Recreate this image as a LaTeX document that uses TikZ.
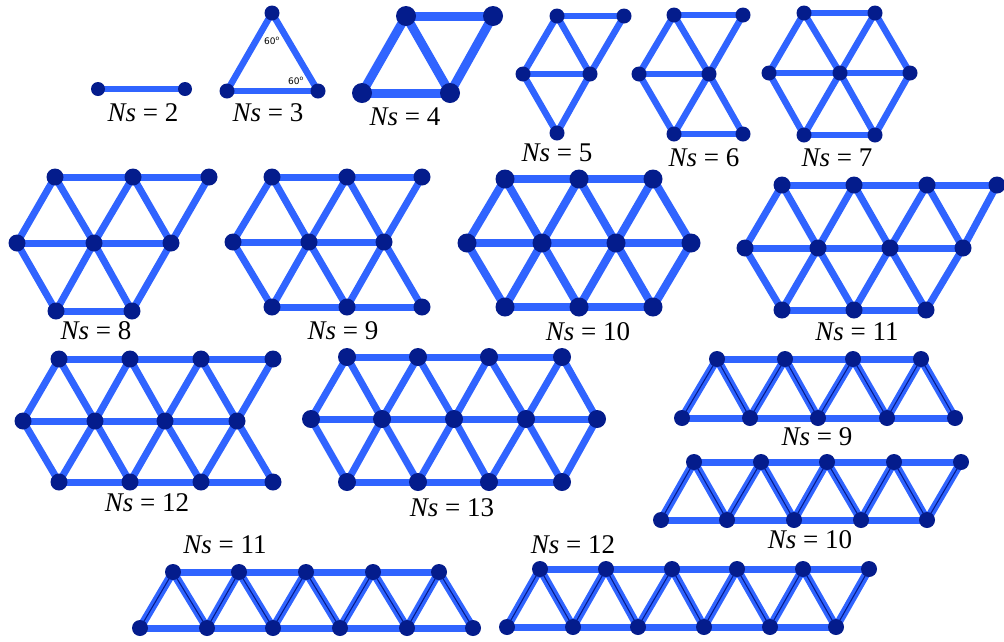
\documentclass[tikz,border=0pt]{standalone}
\usepackage{fontspec}
\setmainfont{Liberation Serif}
\newfontfamily\labelfont{Liberation Serif}
\newfontfamily\anglefont{DejaVu Sans}
\usetikzlibrary{backgrounds}
\definecolor{bondblue}{RGB}{48,100,255}
\definecolor{sitenavy}{RGB}{4,28,140}

\begin{document}
\begin{tikzpicture}[x=1pt, y=-1pt,
    site/.style={circle, fill=sitenavy, inner sep=0pt, minimum size=#1},
    site/.default=16pt,
    bond/.style={draw=bondblue, line width=#1},
    bond/.default=7pt,
    rung/.style={draw=bondblue, line width=8pt, postaction={draw=sitenavy, line width=1.1pt}},
    lbl/.style={font=\labelfont\fontsize{27}{30}\selectfont},
    ang/.style={font=\anglefont\fontsize{9}{10}\selectfont}
]
    \useasboundingbox (0,0) rectangle (1004,641);

    % Ns = 2
    \foreach \n/\x/\y in {a/98/89, b/185/89}
        \node[site=14pt] (n2\n) at (\x,\y) {};
    \begin{scope}[on background layer]
        \draw[bond=6pt] (n2a.center) -- (n2b.center);
    \end{scope}
    \node[lbl] (l2) at (143,113) {\textit{Ns} = 2};

    % Ns = 3
    \foreach \n/\x/\y in {t/272/13, l/227/91, r/318/91}
        \node[site=15pt] (n3\n) at (\x,\y) {};
    \begin{scope}[on background layer]
        \foreach \u/\v in {t/l, t/r, l/r}
            \draw[bond=6.5pt] (n3\u.center) -- (n3\v.center);
    \end{scope}
    \node[ang] (a3t) at (272,41) {60\textsuperscript{o}};
    \node[ang] (a3r) at (296,81) {60\textsuperscript{o}};
    \node[lbl] (l3) at (268,113) {\textit{Ns} = 3};

    % Ns = 4
    \foreach \n/\x/\y in {a/406/16, b/493/16, c/362/93, d/450/93}
        \node[site=20pt] (n4\n) at (\x,\y) {};
    \begin{scope}[on background layer]
        \foreach \u/\v in {a/b, a/c, a/d, b/d, c/d}
            \draw[bond=9pt] (n4\u.center) -- (n4\v.center);
    \end{scope}
    \node[lbl] (l4) at (405,117) {\textit{Ns} = 4};

    % Ns = 5
    \foreach \n/\x/\y in {a/557/16, b/624/16, c/523/74, d/590/74, e/557/133}
        \node[site=15pt] (n5\n) at (\x,\y) {};
    \begin{scope}[on background layer]
        \foreach \u/\v in {a/b, a/c, a/d, b/d, c/d, c/e, d/e}
            \draw[bond=6.5pt] (n5\u.center) -- (n5\v.center);
    \end{scope}
    \node[lbl] (l5) at (557,153) {\textit{Ns} = 5};

    % Ns = 6
    \foreach \n/\x/\y in {a/674/15, b/743/15, c/639/74, d/709/74, e/674/134, f/743/134}
        \node[site=15pt] (n6\n) at (\x,\y) {};
    \begin{scope}[on background layer]
        \foreach \u/\v in {a/b, a/c, a/d, b/d, c/d, c/e, d/e, d/f, e/f}
            \draw[bond=6.5pt] (n6\u.center) -- (n6\v.center);
    \end{scope}
    \node[lbl] (l6) at (704,158) {\textit{Ns} = 6};

    % Ns = 7
    \foreach \n/\x/\y in {a/804/13, b/875/13, c/769/73, d/840/73, e/910/73, f/804/135, g/875/135}
        \node[site=15pt] (n7\n) at (\x,\y) {};
    \begin{scope}[on background layer]
        \foreach \u/\v in {a/b, a/c, a/d, b/d, b/e, c/d, d/e, c/f, d/f, d/g, e/g, f/g}
            \draw[bond=6.5pt] (n7\u.center) -- (n7\v.center);
    \end{scope}
    \node[lbl] (l7) at (837,158) {\textit{Ns} = 7};

    % Ns = 8
    \foreach \n/\x/\y in {a/55/177, b/133/177, c/209/177, d/17/243, e/94/243, f/171/243, g/56/311, h/132/311}
        \node[site=17pt] (n8\n) at (\x,\y) {};
    \begin{scope}[on background layer]
        \foreach \u/\v in {a/b, b/c, d/e, e/f, g/h, a/d, a/e, b/e, b/f, c/f, d/g, e/g, e/h, f/h}
            \draw[bond] (n8\u.center) -- (n8\v.center);
    \end{scope}
    \node[lbl] (l8) at (96,331) {\textit{Ns} = 8};

    % Ns = 9
    \foreach \n/\x/\y in {a/272/177, b/347/177, c/422/177, d/233/242, e/309/242, f/384/242, g/272/307, h/347/307, i/422/307}
        \node[site=17pt] (n9\n) at (\x,\y) {};
    \begin{scope}[on background layer]
        \foreach \u/\v in {a/b, b/c, d/e, e/f, g/h, h/i, a/d, a/e, b/e, b/f, c/f, d/g, e/g, e/h, f/h, f/i}
            \draw[bond] (n9\u.center) -- (n9\v.center);
    \end{scope}
    \node[lbl] (l9) at (343,331) {\textit{Ns} = 9};

    % Ns = 10
    \foreach \n/\x/\y in {a/505/179, b/579/179, c/653/179, d/467/243, e/542/243, f/616/243, g/691/243, h/505/307, i/579/307, j/653/307}
        \node[site=19pt] (n10\n) at (\x,\y) {};
    \begin{scope}[on background layer]
        \foreach \u/\v in {a/b, b/c, d/e, e/f, f/g, h/i, i/j, a/d, a/e, b/e, b/f, c/f, c/g, d/h, e/h, e/i, f/i, f/j, g/j}
            \draw[bond=8pt] (n10\u.center) -- (n10\v.center);
    \end{scope}
    \node[lbl] (l10) at (588,332) {\textit{Ns} = 10};

    % Ns = 11
    \foreach \n/\x/\y in {a/782/185, b/854/185, c/927/185, d/997/185, e/745/248, f/818/248, g/890/248, h/963/248, i/782/310, j/854/310, k/926/310}
        \node[site=17pt] (n11\n) at (\x,\y) {};
    \begin{scope}[on background layer]
        \foreach \u/\v in {a/b, b/c, c/d, e/f, f/g, g/h, i/j, j/k, a/e, a/f, b/f, b/g, c/g, c/h, d/h, e/i, f/i, f/j, g/j, g/k, h/k}
            \draw[bond] (n11\u.center) -- (n11\v.center);
    \end{scope}
    \node[lbl] (l11) at (857,332) {\textit{Ns} = 11};

    % Ns = 12
    \foreach \n/\x/\y in {a/59/359, b/130/359, c/201/359, d/273/359, e/23/421, f/95/421, g/165/421, h/237/421, i/59/482, j/130/482, k/201/482, l/273/482}
        \node[site=17pt] (n12\n) at (\x,\y) {};
    \begin{scope}[on background layer]
        \foreach \u/\v in {a/b, b/c, c/d, e/f, f/g, g/h, i/j, j/k, k/l, a/e, a/f, b/f, b/g, c/g, c/h, d/h, e/i, f/i, f/j, g/j, g/k, h/k, h/l}
            \draw[bond] (n12\u.center) -- (n12\v.center);
    \end{scope}
    \node[lbl] (l12) at (147,503) {\textit{Ns} = 12};

    % Ns = 13
    \foreach \n/\x/\y in {a/347/357, b/418/357, c/489/357, d/562/357, e/311/419, f/382/419, g/454/419, h/526/419, i/597/419, j/347/482, k/418/482, l/489/482, m/562/482}
        \node[site=18pt] (n13\n) at (\x,\y) {};
    \begin{scope}[on background layer]
        \foreach \u/\v in {a/b, b/c, c/d, e/f, f/g, g/h, h/i, j/k, k/l, l/m, a/e, a/f, b/f, b/g, c/g, c/h, d/h, d/i, e/j, f/j, f/k, g/k, g/l, h/l, h/m, i/m}
            \draw[bond] (n13\u.center) -- (n13\v.center);
    \end{scope}
    \node[lbl] (l13) at (452,508) {\textit{Ns} = 13};

    % Chain Ns = 9
    \foreach \i/\x in {1/717, 2/785, 3/853, 4/921}
        \node[site] (c9t\i) at (\x,359) {};
    \foreach \i/\x in {1/682, 2/750, 3/818, 4/887, 5/955}
        \node[site] (c9b\i) at (\x,418) {};
    \begin{scope}[on background layer]
        \foreach \i [count=\j from 2] in {1,...,4} {
            \draw[rung] (c9b\i.center) -- (c9t\i.center);
            \draw[rung] (c9t\i.center) -- (c9b\j.center);
            \draw[bond] (c9b\i.center) -- (c9b\j.center);
        }
        \foreach \i [count=\j from 2] in {1,...,3}
            \draw[bond] (c9t\i.center) -- (c9t\j.center);
    \end{scope}
    \node[lbl] (c9l) at (817,437) {\textit{Ns} = 9};

    % Chain Ns = 10
    \foreach \i/\x in {1/694, 2/761, 3/827, 4/894, 5/961}
        \node[site] (c10t\i) at (\x,462) {};
    \foreach \i/\x in {1/661, 2/727, 3/794, 4/861, 5/927}
        \node[site] (c10b\i) at (\x,520) {};
    \begin{scope}[on background layer]
        \foreach \i in {1,...,5}
            \draw[rung] (c10b\i.center) -- (c10t\i.center);
        \foreach \i [count=\j from 2] in {1,...,4} {
            \draw[rung] (c10t\i.center) -- (c10b\j.center);
            \draw[bond] (c10t\i.center) -- (c10t\j.center);
            \draw[bond] (c10b\i.center) -- (c10b\j.center);
        }
    \end{scope}
    \node[lbl] (c10l) at (810,540) {\textit{Ns} = 10};

    % Chain Ns = 11
    \foreach \i/\x in {1/173, 2/239, 3/306, 4/373, 5/439}
        \node[site] (c11t\i) at (\x,572) {};
    \foreach \i/\x in {1/140, 2/207, 3/273, 4/340, 5/407, 6/473}
        \node[site] (c11b\i) at (\x,628) {};
    \begin{scope}[on background layer]
        \foreach \i [count=\j from 2] in {1,...,5} {
            \draw[rung] (c11b\i.center) -- (c11t\i.center);
            \draw[rung] (c11t\i.center) -- (c11b\j.center);
            \draw[bond] (c11b\i.center) -- (c11b\j.center);
        }
        \foreach \i [count=\j from 2] in {1,...,4}
            \draw[bond] (c11t\i.center) -- (c11t\j.center);
    \end{scope}
    \node[lbl] (c11l) at (225,545) {\textit{Ns} = 11};

    % Chain Ns = 12
    \foreach \i/\x in {1/540, 2/606, 3/672, 4/737, 5/803, 6/869}
        \node[site] (c12t\i) at (\x,569) {};
    \foreach \i/\x in {1/507, 2/573, 3/638, 4/704, 5/770, 6/836}
        \node[site] (c12b\i) at (\x,627) {};
    \begin{scope}[on background layer]
        \foreach \i in {1,...,6}
            \draw[rung] (c12b\i.center) -- (c12t\i.center);
        \foreach \i [count=\j from 2] in {1,...,5} {
            \draw[rung] (c12t\i.center) -- (c12b\j.center);
            \draw[bond] (c12t\i.center) -- (c12t\j.center);
            \draw[bond] (c12b\i.center) -- (c12b\j.center);
        }
    \end{scope}
    \node[lbl] (c12l) at (573,545) {\textit{Ns} = 12};

\end{tikzpicture}
\end{document}
